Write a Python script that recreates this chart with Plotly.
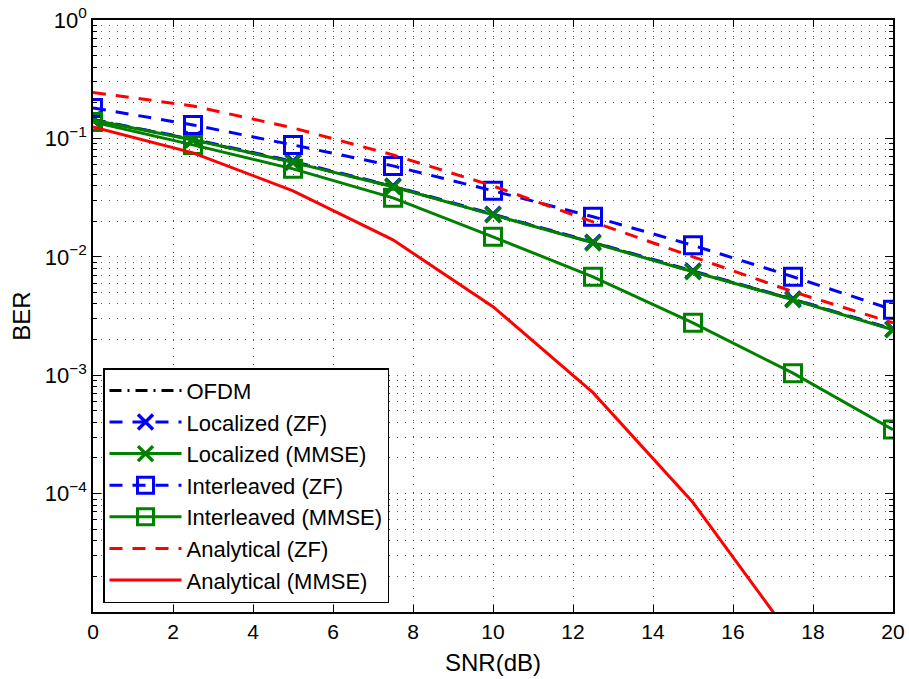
import plotly.graph_objects as go

snr = [0, 2.5, 5, 7.5, 10, 12.5, 15, 17.5, 20]

ber_ofdm = [0.1440, 0.0975, 0.0630, 0.0392, 0.0227, 0.0132, 0.0075, 0.00437, 0.00243]
ber_loc_zf = [0.1445, 0.0985, 0.0640, 0.0396, 0.0229, 0.0133, 0.0076, 0.00440, 0.00245]
ber_loc_mmse = [0.1432, 0.0971, 0.0627, 0.0390, 0.0226, 0.0131, 0.00747, 0.00434, 0.00242]
ber_int_zf = [0.181, 0.130, 0.0881, 0.0586, 0.0361, 0.0218, 0.0125, 0.00678, 0.00357]
ber_int_mmse = [0.1378, 0.0881, 0.0553, 0.0315, 0.01475, 0.00678, 0.00277, 0.00104, 0.000347]
ber_ana_zf = [0.2445, 0.188, 0.1227, 0.0726, 0.0397, 0.0197, 0.0100, 0.00507, 0.00277]
ber_ana_mmse = [0.125, 0.0755, 0.0361, 0.0139, 0.00379, 0.000712, 8.4e-5, 5.9e-6, 2.2e-7]

y_tickvals = [1e-4, 1e-3, 1e-2, 1e-1, 1]
y_ticktext = ["10<sup>\u22124</sup>", "10<sup>\u22123</sup>", "10<sup>\u22122</sup>",
              "10<sup>\u22121</sup>", "10<sup>0</sup>"]
x_tickvals = [0, 2, 4, 6, 8, 10, 12, 14, 16, 18, 20]

BLUE = "#0000FF"
GREEN = "#008000"
RED = "#FF0000"
DASH = "13px,10px"
FONT = "Liberation Sans, Arial, sans-serif"

fig = go.Figure()

fig.add_trace(go.Scatter(x=snr, y=ber_ofdm, name="OFDM", mode="lines",
                         line=dict(color="black", width=3, dash="12px,6px,2px,6px")))
fig.add_trace(go.Scatter(x=snr, y=ber_loc_zf, name="Localized (ZF)", mode="lines+markers",
                         line=dict(color=BLUE, width=3, dash=DASH),
                         marker=dict(symbol="x-thin-open", size=15,
                                     line=dict(color=BLUE, width=3.5), color=BLUE)))
fig.add_trace(go.Scatter(x=snr, y=ber_loc_mmse, name="Localized (MMSE)", mode="lines+markers",
                         line=dict(color=GREEN, width=3),
                         marker=dict(symbol="x-thin-open", size=15,
                                     line=dict(color=GREEN, width=3.5), color=GREEN)))
fig.add_trace(go.Scatter(x=snr, y=ber_int_zf, name="Interleaved (ZF)", mode="lines+markers",
                         line=dict(color=BLUE, width=3, dash=DASH),
                         marker=dict(symbol="square-open", size=17,
                                     line=dict(color=BLUE, width=3), color=BLUE)))
fig.add_trace(go.Scatter(x=snr, y=ber_int_mmse, name="Interleaved (MMSE)", mode="lines+markers",
                         line=dict(color=GREEN, width=3),
                         marker=dict(symbol="square-open", size=17,
                                     line=dict(color=GREEN, width=3), color=GREEN)))
fig.add_trace(go.Scatter(x=snr, y=ber_ana_zf, name="Analytical (ZF)", mode="lines",
                         line=dict(color=RED, width=3, dash=DASH)))
fig.add_trace(go.Scatter(x=snr, y=ber_ana_mmse, name="Analytical (MMSE)", mode="lines",
                         line=dict(color=RED, width=3)))

minor_vals = [m * 10 ** e for e in range(-5, 0) for m in range(2, 10)]

fig.update_layout(
    width=909, height=679,
    margin=dict(l=93, r=16, t=20, b=67, autoexpand=False),
    paper_bgcolor="white", plot_bgcolor="white",
    font=dict(family=FONT, size=22, color="black"),
    showlegend=True,
    legend=dict(x=0.0125, y=0.015, xanchor="left", yanchor="bottom",
                bgcolor="white", bordercolor="black", borderwidth=1.5,
                font=dict(size=22, family=FONT), itemwidth=72,
                tracegroupgap=0),
    xaxis=dict(range=[0, 20], tickmode="array", tickvals=x_tickvals,
               ticks="inside", ticklen=7, tickwidth=1, tickcolor="black",
               showline=True, linecolor="black", linewidth=1.5, mirror="allticks",
               showgrid=True, gridcolor="#555555", gridwidth=1, griddash="1px,7px",
               zeroline=False, automargin=False, ticklabeloverflow="allow",
               title=dict(text="SNR(dB)", font=dict(size=24), standoff=12),
               tickfont=dict(size=21)),
    yaxis=dict(type="log", range=[-5, 0], tickmode="array", tickvals=y_tickvals,
               ticktext=y_ticktext,
               ticks="inside", ticklen=8, tickwidth=1, tickcolor="black",
               showline=True, linecolor="black", linewidth=1.5, mirror="allticks",
               showgrid=True, gridcolor="#555555", gridwidth=1, griddash="1px,7px",
               zeroline=False, automargin=False, ticklabeloverflow="allow",
               minor=dict(tickmode="array", tickvals=minor_vals, ticks="inside",
                          ticklen=4, tickcolor="black", showgrid=True,
                          gridcolor="#555555", gridwidth=1, griddash="1px,7px"),
               title=dict(text="BER", font=dict(size=24), standoff=7),
               tickfont=dict(size=22)),
)

fig.write_html("out.html",
               config={"displayModeBar": False},
               post_script="document.body.style.margin='0';"
                           "document.body.style.overflow='hidden';")
